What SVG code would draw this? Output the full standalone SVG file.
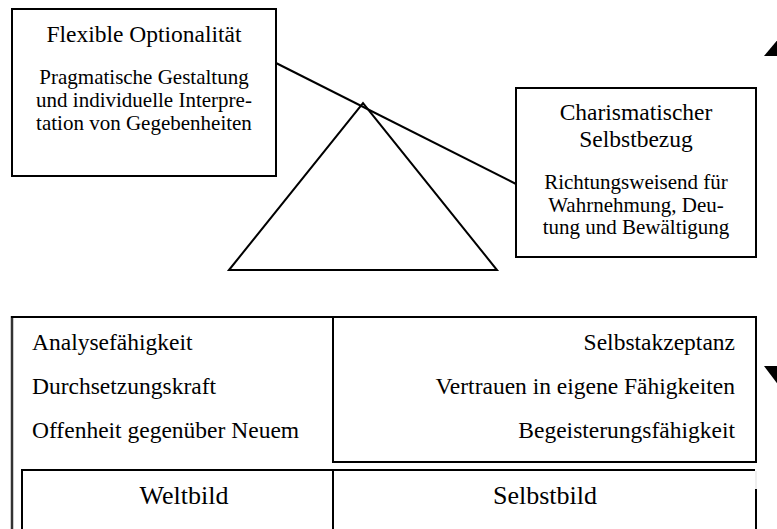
<svg xmlns="http://www.w3.org/2000/svg" width="777" height="529" viewBox="0 0 777 529">
<style>
.box{fill:none;stroke:#000;stroke-width:2}
.ln{fill:none;stroke:#000;stroke-width:2}
text{font-family:"Liberation Serif","Times New Roman",serif;fill:#000}
.t{font-size:23.5px;text-anchor:middle}
.b{font-size:21px;text-anchor:middle}
.l{font-size:23.5px}
.r{font-size:23.5px;text-anchor:end}
.h{font-size:26px;text-anchor:middle}
</style>
<rect width="777" height="529" fill="#fff"/>
<g id="connectors">
<line class="ln" x1="276" y1="63" x2="516" y2="184"/>
</g>
<g id="pyramid">
<polygon class="ln" points="229,270 363,103 497,270" fill="none" stroke-linejoin="miter"/>
</g>
<g id="flexible">
<rect class="box" x="12" y="9" width="264" height="167"/>
<text class="t" x="144" y="42">Flexible Optionalität</text>
<text class="b" x="144" y="84">Pragmatische Gestaltung</text>
<text class="b" x="144" y="107">und individuelle Interpre-</text>
<text class="b" x="144" y="130">tation von Gegebenheiten</text>
</g>
<g id="charisma">
<rect class="box" x="516" y="88" width="240" height="169"/>
<text class="t" x="636" y="120">Charismatischer</text>
<text class="t" x="636" y="147">Selbstbezug</text>
<text class="b" x="636" y="189">Richtungsweisend für</text>
<text class="b" x="636" y="212">Wahrnehmung, Deu-</text>
<text class="b" x="636" y="234">tung und Bewältigung</text>
</g>
<g id="arrows">
<polygon points="779,38 764,56 779,56" fill="#000"/>
<polygon points="764,366 779,366 779,386" fill="#000"/>
</g>
<g id="weltbild-traits">
<line x1="12" y1="316" x2="12" y2="529" stroke="#333" stroke-width="2.5"/>
<line class="ln" x1="11" y1="317" x2="334" y2="317"/>
<text class="l" x="32" y="350">Analysefähigkeit</text>
<text class="l" x="32" y="394">Durchsetzungskraft</text>
<text class="l" x="32" y="438">Offenheit gegenüber Neuem</text>
</g>
<g id="selbstbild-traits">
<rect class="box" x="333" y="317" width="423" height="145"/>
<text class="r" x="735" y="350">Selbstakzeptanz</text>
<text class="r" x="735" y="394">Vertrauen in eigene Fähigkeiten</text>
<text class="r" x="735" y="438">Begeisterungsfähigkeit</text>
</g>
<g id="weltbild">
<polyline class="ln" points="22,529 22,470 333,470"/>
<text class="h" x="184" y="504">Weltbild</text>
</g>
<g id="selbstbild">
<polyline class="ln" points="333,529 333,470 755,470"/>
<line x1="756" y1="471" x2="756" y2="489" stroke="#ddd" stroke-width="1"/>
<line class="ln" x1="756" y1="489" x2="756" y2="529"/>
<text class="h" x="545" y="504">Selbstbild</text>
</g>
</svg>
